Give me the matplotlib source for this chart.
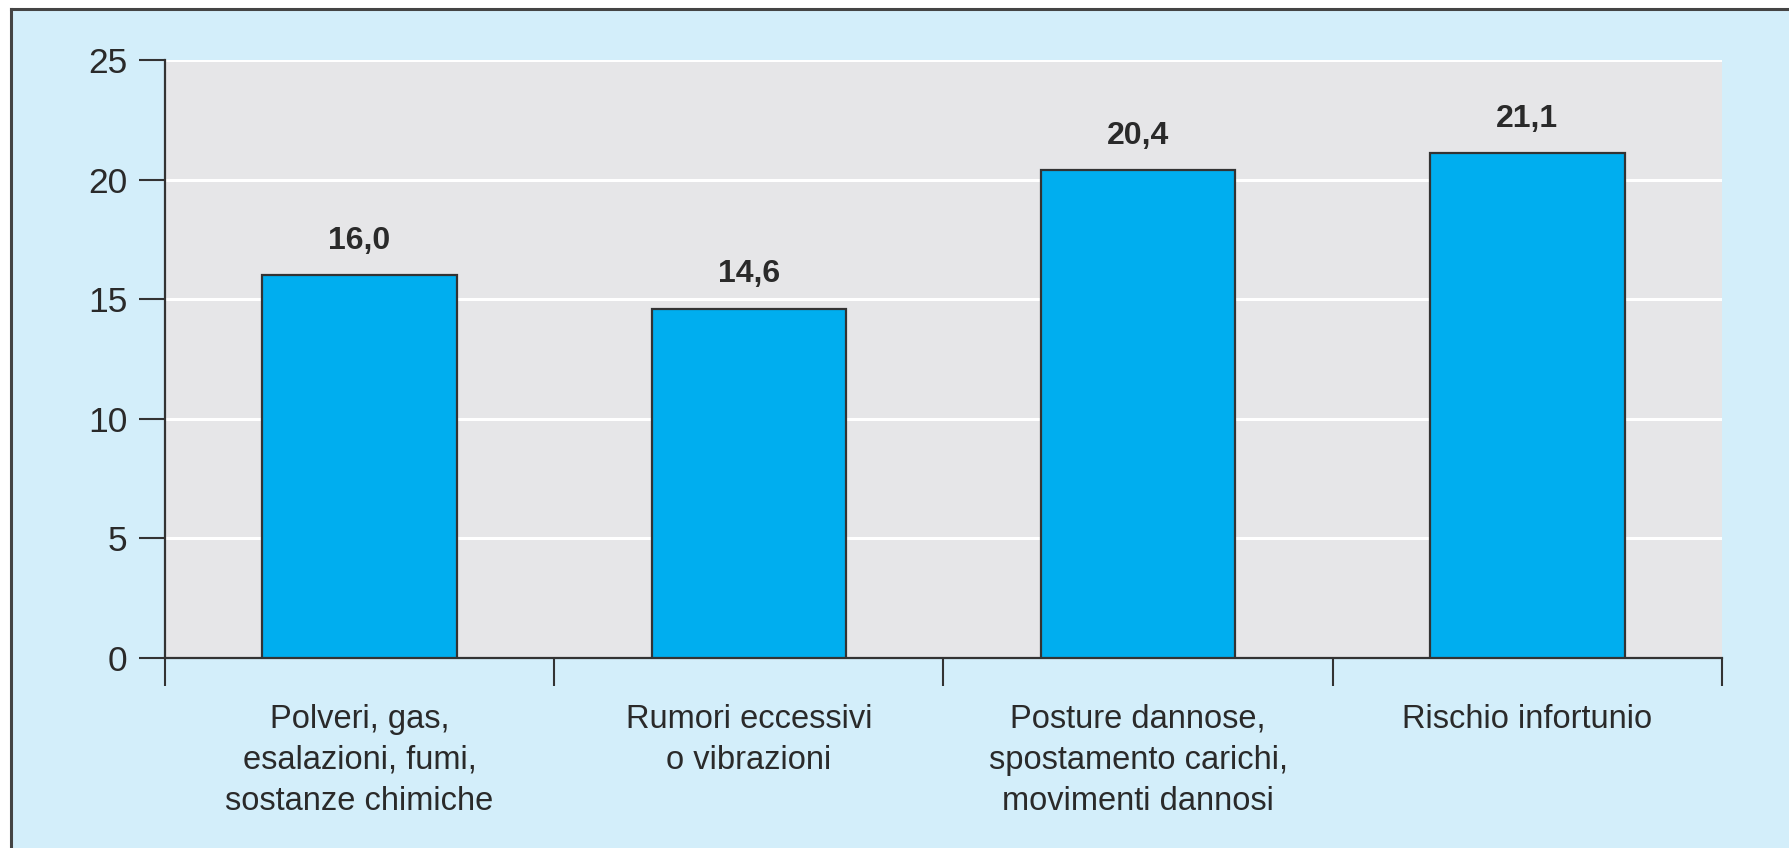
import matplotlib
matplotlib.use("Agg")
import matplotlib.pyplot as plt
from matplotlib.lines import Line2D
from matplotlib.patches import Rectangle

categories = [
    "Polveri, gas,\nesalazioni, fumi,\nsostanze chimiche",
    "Rumori eccessivi\no vibrazioni",
    "Posture dannose,\nspostamento carichi,\nmovimenti dannosi",
    "Rischio infortunio",
]
values = [16.0, 14.6, 20.4, 21.1]
value_labels = ["16,0", "14,6", "20,4", "21,1"]
yticks = [0, 5, 10, 15, 20, 25]

BG = "#d3eefa"
PLOT_BG = "#e6e6e8"
BAR = "#00aeef"
DARK = "#333333"
TXT = "#2a2a2a"

plt.rcParams["font.family"] = ["Liberation Sans", "DejaVu Sans"]

W, H = 1790, 848
fig = plt.figure(figsize=(W / 100, H / 100), dpi=100, facecolor="white")

# outer panel
bx0, by1 = 11 / W, 1 - 9 / H
fig.patches.append(Rectangle((bx0, 0), 1 - bx0, by1, transform=fig.transFigure,
                             facecolor=BG, edgecolor="none", zorder=-10))
fig.lines.append(Line2D([bx0, bx0], [0, by1], transform=fig.transFigure,
                        color="#444444", lw=2.2, zorder=-5))
fig.lines.append(Line2D([bx0, 1], [by1, by1], transform=fig.transFigure,
                        color="#444444", lw=2.2, zorder=-5))

left, right, top, bottom = 165, 1722, 60, 658
ax = fig.add_axes([left / W, (H - bottom) / H, (right - left) / W, (bottom - top) / H])
ax.set_zorder(1)
ax.set_facecolor(PLOT_BG)

x = list(range(len(categories)))
ax.bar(x, values, width=0.5, color=BAR, edgecolor=DARK, linewidth=1.6, zorder=3)

for xi, v, lab in zip(x, values, value_labels):
    ax.annotate(lab, (xi, v), xytext=(0, 19), textcoords="offset points",
                ha="center", va="baseline", fontsize=23, fontweight="bold", color=TXT)

ax.set_xlim(-0.5, len(categories) - 0.5)
ax.set_ylim(0, 25)
ax.set_yticks(yticks)
ax.set_yticklabels([str(t) for t in yticks])
ax.yaxis.grid(True, color="white", linewidth=2.2, zorder=1)
ax.set_axisbelow(True)

ax.set_xticks([i - 0.5 for i in range(len(categories) + 1)])
ax.set_xticklabels([])
ax.set_xticks(x, minor=True)
ax.set_xticklabels(categories, minor=True, fontsize=23.5, color=TXT, linespacing=1.41)
ax.tick_params(axis="x", which="major", direction="out", length=20, width=1.5, color=DARK)
ax.tick_params(axis="x", which="minor", length=0, pad=33)
ax.tick_params(axis="y", direction="out", length=19, width=1.5, color=DARK,
               labelsize=25.5, labelcolor=TXT, pad=8)

for s in ["top", "right"]:
    ax.spines[s].set_visible(False)
for s in ["left", "bottom"]:
    ax.spines[s].set_color(DARK)
    ax.spines[s].set_linewidth(1.6)

fig.savefig("out.png", dpi=100, facecolor=fig.get_facecolor())
